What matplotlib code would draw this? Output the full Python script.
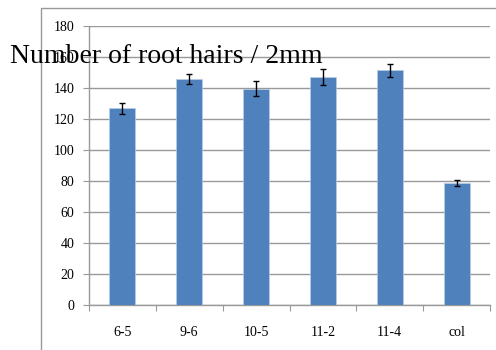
import matplotlib
matplotlib.use("Agg")
import matplotlib.pyplot as plt
from matplotlib.patches import Rectangle

categories = ["6-5", "9-6", "10-5", "11-2", "11-4", "col"]
values = [127, 146, 139.5, 147, 151.5, 78.7]
errors = [3.5, 3.3, 4.8, 5.0, 4.3, 1.8]
yticks = [0, 20, 40, 60, 80, 100, 120, 140, 160, 180]
title = "Number of root hairs / 2mm"

plt.rcParams['font.family'] = ['Liberation Serif', 'DejaVu Serif']

fig = plt.figure(figsize=(4.96, 3.5), dpi=100)
fig.patches.append(Rectangle((41/496, -0.1), 1.0, 1 - 8/350 + 0.1, transform=fig.transFigure,
                             fill=False, edgecolor='#999999', linewidth=1.0))
ax = fig.add_axes([89/496, 45/350, (490-89)/496, (305-26)/350])

x = range(len(categories))
ax.bar(x, values, width=0.39, color='#4F81BD', edgecolor='#B9CDE5', linewidth=0.5, zorder=3)
ax.errorbar(x, values, yerr=errors, fmt='none', ecolor='black', elinewidth=1.0, capsize=2.5, capthick=1.0, zorder=4)

ax.set_xlim(-0.5, len(categories) - 0.5)
ax.set_ylim(0, 180)
ax.set_yticks(yticks)
ax.set_yticklabels([str(t) for t in yticks], fontsize=10)
ax.set_xticks([i - 0.5 for i in range(len(categories) + 1)], minor=False)
ax.set_xticklabels([])
ax.set_xticks(list(x), minor=True)
ax.set_xticklabels(categories, minor=True, fontsize=10)
ax.tick_params(axis='x', which='major', length=4, color='#999999', direction='out')
ax.tick_params(axis='x', which='minor', length=0, pad=15)
ax.tick_params(axis='y', length=4, color='#999999', direction='out', pad=6.5)
ax.yaxis.grid(True, color='#999999', linewidth=1.0, zorder=0)
ax.set_axisbelow(True)
for s in ['top', 'right']:
    ax.spines[s].set_visible(False)
for s in ['left', 'bottom']:
    ax.spines[s].set_color('#999999')
    ax.spines[s].set_linewidth(1.0)

fig.text(10/496, 1 - 63/350, title, fontsize=20, va='baseline', ha='left')

fig.savefig("out.png", dpi=100)
